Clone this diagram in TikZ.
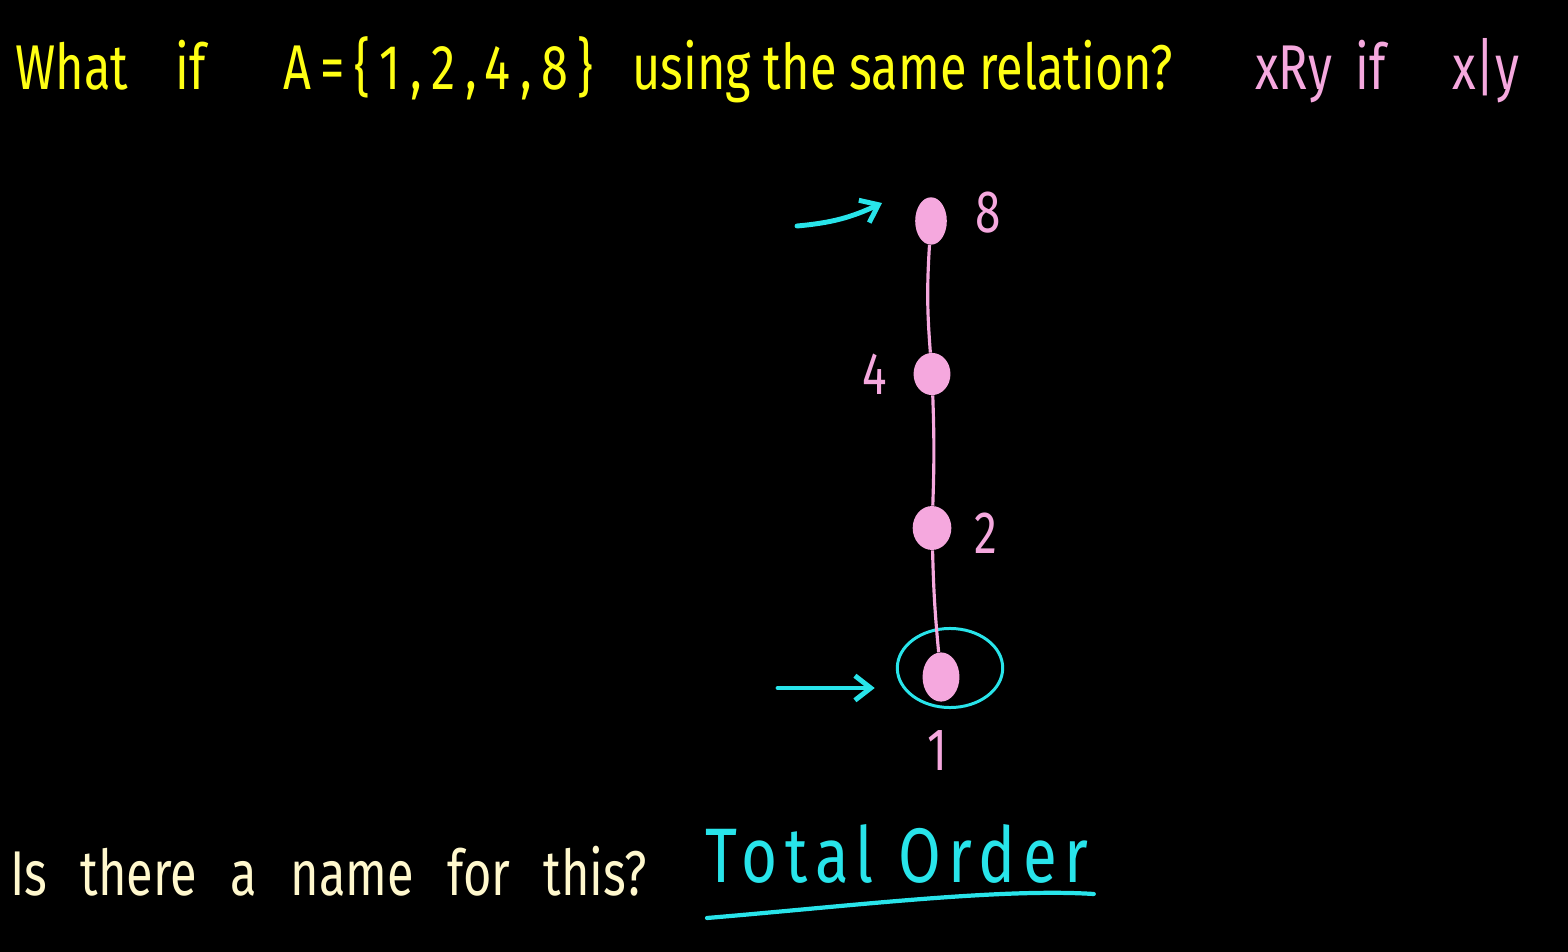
\documentclass[tikz,border=0pt]{standalone}
\usepackage{fontspec}
\setmainfont{Fira Sans}
\newfontfamily\hand[FakeStretch=0.77]{Fira Sans}
\newfontfamily\handwide[FakeStretch=0.77,LetterSpace=15]{Fira Sans}
\newfontfamily\handbig[FakeStretch=0.8,LetterSpace=10]{Fira Sans}
\newcommand\widespaces{\spaceskip=19pt\relax}
\usetikzlibrary{positioning,shapes.geometric,arrows.meta}
\definecolor{chalkyellow}{RGB}{255,255,20}
\definecolor{chalkpink}{RGB}{245,168,222}
\definecolor{chalkcyan}{RGB}{40,228,234}
\definecolor{chalkcream}{RGB}{255,248,205}

\begin{document}
\begin{tikzpicture}[x=0.02cm, y=-0.02cm,
    txt/.style={anchor=base west, inner sep=0pt, font=\hand\fontsize{36}{40}\selectfont},
    dot/.style={ellipse, fill=chalkpink, inner sep=0pt},
    lbl/.style={inner sep=0pt, text=chalkpink, font=\hand\fontsize{34}{38}\selectfont},
    edge/.style={chalkpink, line width=1.8pt},
    arrow/.style={-{Straight Barb[length=9pt,width=14pt]}, chalkcyan, line width=2.8pt, line cap=round}
  ]
  \fill[black] (0,0) rectangle (1568,952);

  % question on top
  \node (what) [txt, text=chalkyellow] at (15,90) {What};
  \node (if) [txt, text=chalkyellow] at (175,90) {if};
  \node (set) [txt, text=chalkyellow, font=\handwide\fontsize{36}{40}\selectfont] at (283,90) {A=\{1,2,4,8\}};
  \node (rest) [txt, text=chalkyellow] at (632,90) {using the same relation?};
  \node (rel) [txt, text=chalkpink] at (1255,90) {xRy};
  \node (relif) [txt, text=chalkpink] at (1355,90) {if};
  \node (div) [txt, text=chalkpink] at (1452,90) {x|y};

  % the chain
  \node (n8) [dot, minimum width=18pt, minimum height=27pt] at (931,221) {};
  \node (n4) [dot, minimum width=21pt, minimum height=24pt] at (932,374) {};
  \node (n2) [dot, minimum width=22pt, minimum height=25pt] at (932,528) {};
  \node (n1) [dot, minimum width=21pt, minimum height=28pt] at (941,677) {};
  \node (ring) [ellipse, draw=chalkcyan, line width=1.7pt, minimum width=60pt, minimum height=45pt] at (950,668) {};

  \node (l8) [lbl, right=16pt of n8, yshift=5pt] {8};
  \node (l4) [lbl, left=15pt of n4] {4};
  \node (l2) [lbl, right=13pt of n2, yshift=-3pt] {2};
  \node (l1) [lbl, below=16pt of n1, xshift=-2pt] {1};

  \draw [edge] (n8) to[bend right=4] (n4);
  \draw [edge] (n4) to[bend left=2] (n2);
  \draw [edge] (n2) to[bend right=2] (n1);

  \coordinate (a8) at (797,226);
  \coordinate (h8) at (882,203);
  \coordinate (a1) at (778,688);
  \draw [arrow] (a8) to[bend right=10] (h8);
  \draw [arrow, shorten >=12pt] (a1) -- (ring.west |- a1);

  % question at the bottom
  \node (ask) [txt, text=chalkcream, font=\hand\fontsize{36}{40}\selectfont\widespaces] at (10,895) {Is there a name for this?};
  \node (answer) [txt, text=chalkcyan, font=\handbig\fontsize{44}{48}\selectfont] at (705,882) {Total Order};
  \draw [chalkcyan, line width=2.4pt, line cap=round] ([shift={(2,36)}]answer.base west) .. controls (850,906) and (1000,888) .. ([shift={(5,12)}]answer.base east);
\end{tikzpicture}
\end{document}
